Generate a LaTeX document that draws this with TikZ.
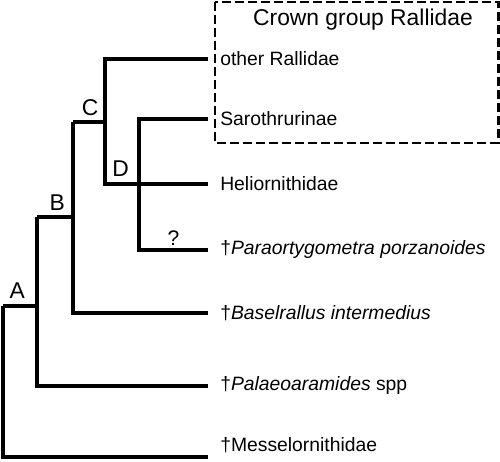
\documentclass[tikz,border=0pt]{standalone}
\usepackage{fontspec}
\setmainfont{Liberation Sans}
\usetikzlibrary{positioning}
\tikzset{
    > = latex
}

\begin{document}
\begin{tikzpicture}[x=0.02cm, y=-0.02cm, line width=2.6pt]
        \tikzstyle{taxon}=[anchor=west, inner xsep=0.2cm, inner ysep=0pt, font=\fontsize{11}{13}\selectfont]
        \tikzstyle{clade}=[inner sep=1pt, font=\fontsize{13}{15}\selectfont]
        \tikzstyle{crown}=[line width=1.7pt, dash pattern=on 5pt off 2.4pt]
        \useasboundingbox (0,0) rectangle (500,462);
        % crown group box
        \draw[crown] (215,2) rectangle (498,143);
        \node[font=\fontsize{13}{15}\selectfont] (crown) at (363,20) {Crown group Rallidae};
        % internal nodes
        \coordinate (nA) at (3,306);
        \coordinate (nB) at (37,217);
        \coordinate (nC) at (73,122);
        \coordinate (nE) at (105,122);
        \coordinate (nD) at (139,184);
        \coordinate (mesEnd) at (208,457);
        % tips
        \node[taxon] (oth) at (208,59) {other Rallidae};
        \node[taxon] (sar) at (208,119) {Sarothrurinae};
        \node[taxon] (hel) at (208,184) {Heliornithidae};
        \node[taxon] (par) at (208,250) {\dag\textit{Paraortygometra porzanoides}};
        \node[taxon] (bas) at (208,313) {\dag\textit{Baselrallus intermedius}};
        \node[taxon] (pal) at (208,386) {\dag\textit{Palaeoaramides} spp};
        \node[taxon] (mes) at (208,445) {\dag Messelornithidae};
        % branches
        \draw (nA) |- (mesEnd);
        \draw (nA) -| (nB);
        \draw (nB) |- (pal.west);
        \draw (nB) -| (nC);
        \draw (nC) |- (bas.west);
        \draw (nC) -- (nE);
        \draw (nE) |- (oth.west);
        \draw (nE) |- (hel.west);
        \draw (nD) |- (sar.west);
        \draw (nD) |- node[pos=0.75, above, inner sep=1.5pt, font=\fontsize{12}{14}\selectfont] (q) {?} (par.west);
        % clade labels
        \node[clade, above right=1.7pt and 1.5pt of nA] (lA) {A};
        \node[clade, above right=1.2pt and 4.9pt of nB] (lB) {B};
        \node[clade, above right=1.2pt and 2.8pt of nC] (lC) {C};
        \node[clade, above left=1.7pt and 3.4pt of nD] (lD) {D};
\end{tikzpicture}
\end{document}
